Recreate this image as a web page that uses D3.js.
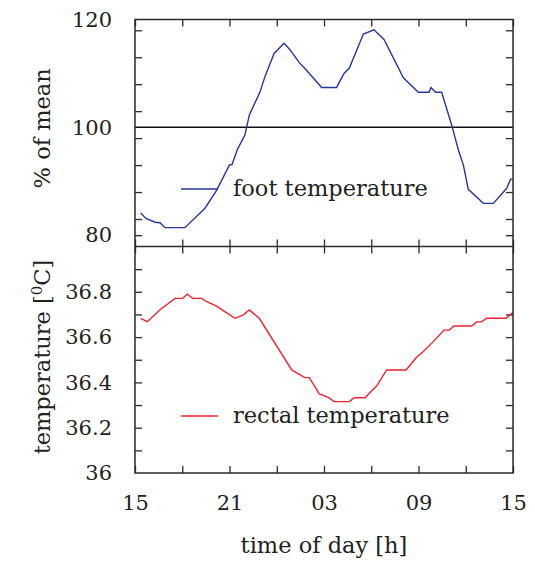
<!DOCTYPE html>
<html>
<head>
<meta charset="utf-8">
<script src="https://cdn.jsdelivr.net/npm/d3@7"></script>
<style>
  body { margin: 0; background: #fff; }
  text { font-family: "DejaVu Serif", serif; fill: #222; }
</style>
</head>
<body>
<svg width="535" height="563"></svg>
<script>
// hours counted from 15:00
const footHours = [0.36, 0.70, 1.27, 1.59, 1.90, 3.17, 4.44, 5.18, 5.99, 6.16, 6.50, 6.98, 7.26, 7.94, 8.25, 8.83, 9.46, 9.84, 10.43, 10.79, 11.85, 12.80, 13.27, 13.61, 14.50, 15.17, 15.81, 17.04, 17.99, 18.67, 18.79, 19.09, 19.47, 20.11, 20.53, 20.85, 21.16, 22.12, 22.75, 23.60, 23.85, 24];
const footValues = [84.1, 83.1, 82.4, 82.3, 81.4, 81.4, 85.0, 88.3, 93.0, 93.1, 95.9, 98.6, 102.3, 106.6, 109.4, 113.7, 115.6, 114.4, 112.0, 110.9, 107.4, 107.4, 110.0, 111.0, 117.3, 118.1, 116.3, 109.2, 106.5, 106.5, 107.4, 106.5, 106.5, 100.4, 95.8, 93.0, 88.5, 85.9, 85.9, 88.7, 90.4, 90.4];

const rectalHours = [0.36, 0.78, 1.63, 2.54, 3.03, 3.32, 3.66, 4.23, 4.59, 5.18, 5.65, 6.35, 6.88, 7.26, 7.89, 9.95, 10.79, 11.07, 11.70, 12.28, 12.64, 13.61, 13.92, 14.60, 15.34, 15.98, 17.21, 17.88, 18.31, 18.94, 19.62, 19.96, 20.25, 21.38, 21.69, 22.01, 22.33, 23.56, 23.98];
const rectalValues = [36.683, 36.668, 36.723, 36.771, 36.771, 36.790, 36.771, 36.771, 36.755, 36.737, 36.715, 36.683, 36.698, 36.720, 36.683, 36.455, 36.421, 36.421, 36.349, 36.334, 36.315, 36.315, 36.332, 36.332, 36.384, 36.455, 36.455, 36.511, 36.536, 36.580, 36.631, 36.631, 36.649, 36.649, 36.667, 36.667, 36.683, 36.683, 36.708];

const hourTicks = [0, 3, 6, 9, 12, 15, 18, 21, 24];
const hourLabelValues = [0, 6, 12, 18, 24];
const hourLabelText = ["15", "21", "03", "09", "15"];

const footTicks = [80, 83, 88, 93, 98, 103, 108, 113, 118];
const footLabels = [80, 100, 120];
const rectalTicks = [36.1, 36.2, 36.3, 36.4, 36.5, 36.6, 36.7, 36.8, 36.9];
const rectalLabels = [36, 36.2, 36.4, 36.6, 36.8];

const svg = d3.select("svg");
const plotLeft = 135, plotRight = 513, plotTop = 19.5, plotMid = 246.5, plotBottom = 473;
const tick = 7;
const frameColor = "#2a2a2a";

const x = d3.scaleLinear().domain([0, 24]).range([plotLeft, plotRight]);
const yTop = d3.scaleLinear().domain([77.9, 120]).range([plotMid, plotTop]);
const yBot = d3.scaleLinear().domain([36, 37]).range([plotBottom, plotMid]);

// tick marks, all pointing inward
function marks(axis, tx, ty) {
  const g = svg.append("g")
    .attr("transform", `translate(${tx},${ty})`)
    .call(axis.tickFormat("").tickSizeOuter(0));
  g.select(".domain").remove();
  g.selectAll("line").attr("stroke", frameColor).attr("stroke-width", 1.3);
}
marks(d3.axisTop(x).tickValues(hourTicks).tickSizeInner(-tick), 0, plotTop);
marks(d3.axisBottom(x).tickValues(hourTicks).tickSizeInner(-tick), 0, plotMid);
marks(d3.axisTop(x).tickValues(hourTicks).tickSizeInner(-tick), 0, plotMid);
marks(d3.axisBottom(x).tickValues(hourTicks).tickSizeInner(-tick), 0, plotBottom);
marks(d3.axisLeft(yTop).tickValues(footTicks).tickSizeInner(-tick), plotLeft, 0);
marks(d3.axisRight(yTop).tickValues(footTicks).tickSizeInner(-tick), plotRight, 0);
marks(d3.axisLeft(yBot).tickValues(rectalTicks).tickSizeInner(-tick), plotLeft, 0);
marks(d3.axisRight(yBot).tickValues(rectalTicks).tickSizeInner(-tick), plotRight, 0);

// tick labels
function labels(axis, tx, ty) {
  const g = svg.append("g")
    .attr("transform", `translate(${tx},${ty})`)
    .call(axis.tickSize(0));
  g.select(".domain").remove();
  g.selectAll("text").attr("font-size", 21).attr("font-family", "DejaVu Serif").attr("fill", "#222");
}
labels(d3.axisLeft(yTop).tickValues(footLabels).tickPadding(23).tickFormat(d3.format("d")), plotLeft, 0);
labels(d3.axisLeft(yBot).tickValues(rectalLabels).tickPadding(23).tickFormat(d => String(d)), plotLeft, 0);
labels(d3.axisBottom(x).tickValues(hourLabelValues).tickPadding(22)
  .tickFormat((d, i) => hourLabelText[i]), 0, plotBottom);

// reference line at 100 %
svg.append("line")
  .attr("x1", plotLeft).attr("x2", plotRight)
  .attr("y1", yTop(100)).attr("y2", yTop(100))
  .attr("stroke", "#111").attr("stroke-width", 1.5);

// curves
const footLine = d3.line().x(d => x(d[0])).y(d => yTop(d[1]));
svg.append("path")
  .datum(d3.zip(footHours, footValues))
  .attr("d", footLine)
  .attr("fill", "none").attr("stroke", "#29379b").attr("stroke-width", 1.4);

const rectalLine = d3.line().x(d => x(d[0])).y(d => yBot(d[1]));
svg.append("path")
  .datum(d3.zip(rectalHours, rectalValues))
  .attr("d", rectalLine)
  .attr("fill", "none").attr("stroke", "#f0222b").attr("stroke-width", 1.4);

// frames
svg.append("rect")
  .attr("x", plotLeft).attr("y", plotTop)
  .attr("width", plotRight - plotLeft).attr("height", plotBottom - plotTop)
  .attr("fill", "none").attr("stroke", frameColor).attr("stroke-width", 1.5);
svg.append("line")
  .attr("x1", plotLeft).attr("x2", plotRight).attr("y1", plotMid).attr("y2", plotMid)
  .attr("stroke", frameColor).attr("stroke-width", 1.5);

// legends
const legend = [
  { name: "foot temperature", color: "#29379b", y: 189 },
  { name: "rectal temperature", color: "#f0222b", y: 416 }
];
legend.forEach(l => {
  svg.append("line")
    .attr("x1", 181).attr("x2", 218).attr("y1", l.y).attr("y2", l.y)
    .attr("stroke", l.color).attr("stroke-width", 1.4);
  svg.append("text")
    .attr("x", 233).attr("y", l.y + 6.5)
    .attr("font-size", 22.5)
    .text(l.name);
});

// axis titles
svg.append("text")
  .attr("transform", `translate(50,${yTop(100) + 1}) rotate(-90)`)
  .attr("text-anchor", "middle")
  .attr("font-size", 22.5)
  .text("% of mean");

const tt = svg.append("text")
  .attr("transform", "translate(50,357) rotate(-90)")
  .attr("text-anchor", "middle")
  .attr("font-size", 22.5);
tt.append("tspan").text("temperature [");
tt.append("tspan").attr("font-size", 15).attr("dy", -8).text("0");
tt.append("tspan").attr("dy", 8).text("C]");

svg.append("text")
  .attr("x", x(12)).attr("y", 553)
  .attr("text-anchor", "middle")
  .attr("font-size", 22.5)
  .text("time of day [h]");
</script>
</body>
</html>
